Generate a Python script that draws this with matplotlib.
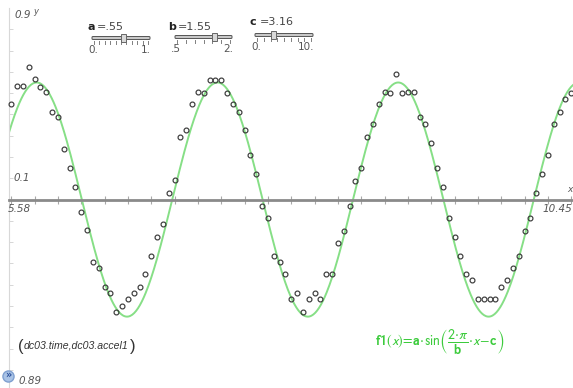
import numpy as np
import matplotlib as mpl
mpl.use('Agg')
import matplotlib.pyplot as plt
from matplotlib.patches import FancyBboxPatch, Rectangle

# slider values for f1(x) = a*sin(2*pi/b*x - c)
a = 0.55
b = 1.55
c = 3.16

# window settings
xmin, xmax = 5.58, 10.45
ymin, ymax = -0.89, 0.9

# dc03.time / dc03.accel1
time = [5.60, 5.65, 5.70, 5.75, 5.80, 5.85, 5.90, 5.95, 6.00, 6.05,
        6.10, 6.15, 6.20, 6.25, 6.30, 6.35, 6.40, 6.45, 6.50, 6.55,
        6.60, 6.65, 6.70, 6.75, 6.80, 6.85, 6.90, 6.95, 7.00, 7.05,
        7.10, 7.15, 7.20, 7.25, 7.30, 7.35, 7.40, 7.45, 7.50, 7.55,
        7.60, 7.65, 7.70, 7.75, 7.80, 7.85, 7.90, 7.95, 8.00, 8.05,
        8.10, 8.15, 8.20, 8.25, 8.30, 8.35, 8.40, 8.45, 8.50, 8.55,
        8.60, 8.65, 8.70, 8.75, 8.80, 8.85, 8.90, 8.95, 9.00, 9.05,
        9.10, 9.15, 9.20, 9.25, 9.30, 9.35, 9.40, 9.45, 9.50, 9.55,
        9.60, 9.65, 9.70, 9.75, 9.80, 9.85, 9.90, 9.95, 10.00, 10.05,
        10.10, 10.15, 10.20, 10.25, 10.30, 10.35, 10.40]
accel1 = [0.448, 0.534, 0.534, 0.623, 0.565, 0.531, 0.506, 0.413, 0.387, 0.238,
          0.149, 0.061, -0.058, -0.144, -0.291, -0.322, -0.410, -0.439, -0.529, -0.499,
          -0.468, -0.439, -0.410, -0.352, -0.263, -0.175, -0.116, 0.030, 0.091, 0.296,
          0.326,
          0.448, 0.506, 0.503, 0.563, 0.563, 0.563, 0.503, 0.448, 0.413, 0.326,
          0.208, 0.119, -0.028, -0.086, -0.263, -0.292, -0.352, -0.468, -0.439, -0.529,
          -0.468, -0.439, -0.468, -0.352, -0.352, -0.203, -0.146, -0.028, 0.089, 0.149,
          0.296, 0.355, 0.448,
          0.504, 0.503, 0.590, 0.503, 0.504, 0.504, 0.387, 0.355, 0.266, 0.149,
          0.061, -0.086, -0.174, -0.263, -0.350, -0.380, -0.468, -0.468, -0.468, -0.468,
          -0.410, -0.380, -0.322, -0.263, -0.146, -0.086, 0.031, 0.119, 0.208, 0.355,
          0.413, 0.473, 0.503]

W, H = 573, 388
fig = plt.figure(figsize=(W / 100, H / 100), dpi=100)
fig.patch.set_facecolor('white')

# plot window goes a few pixels past the right/bottom edge of the screenshot
ax = fig.add_axes([9 / W, -1 / H, 568 / W, 381 / H])
ax.set_xlim(xmin, xmax)
ax.set_ylim(ymin, ymax)
ax.set_facecolor('white')

ax.spines['top'].set_visible(False)
ax.spines['right'].set_visible(False)
ax.spines['bottom'].set_position(('data', 0))
ax.spines['bottom'].set_color('#8a8a8a')
ax.spines['bottom'].set_linewidth(2)
ax.spines['left'].set_color('#d8d8d8')
ax.spines['left'].set_linewidth(0.8)

ax.set_xticks(np.arange(5.6, 10.45, 0.2))
ax.set_yticks(np.arange(-0.8, 0.9, 0.1))
ax.tick_params(axis='x', direction='inout', length=6, width=0.8, color='#a8a8a8',
               labelbottom=False)
ax.tick_params(axis='y', direction='in', length=3, width=0.6, color='#d0d0d0',
               labelleft=False)

xs = np.linspace(xmin, xmax, 600)
ax.plot(xs, a * np.sin(2 * np.pi / b * xs - c), color='#86df86', lw=1.4, zorder=2)
ax.plot(time, accel1, 'o', ms=3.5, mfc='none', mec='#3a3a3a', mew=0.85, zorder=3,
        clip_on=False)


def px(x, y):
    return x / W, 1 - y / H


gray = '#555555'
fig.text(*px(14, 15), '0.9', fontsize=7.5, style='italic', color=gray, va='center')
fig.text(*px(33, 12), 'y', fontsize=6, style='italic', color=gray, va='center')
fig.text(*px(13, 178), '0.1', fontsize=7.5, style='italic', color=gray, va='center')
fig.text(*px(8, 209), '5.58', fontsize=7.5, style='italic', color=gray, va='center')
fig.text(*px(572, 209), '10.45', fontsize=7.5, style='italic', color=gray, va='center',
         ha='right')
fig.text(*px(567, 189), 'x', fontsize=6.5, style='italic', color=gray, va='center')
fig.text(*px(18, 381), '0.89', fontsize=7.5, style='italic', color=gray, va='center')

# little blue icon in the corner
ax.plot([8 / W], [1 - 376 / H], 'o', ms=8, color='#a9c3e6', mec='#7fa0d0',
        transform=fig.transFigure, clip_on=False, zorder=5)
fig.text(*px(8, 375), '»', fontsize=7, color='#2a4f9a', ha='center', va='center',
         weight='bold')

# data set label with tall brackets
fig.text(*px(18, 346), '(', fontsize=12, color='#333333', va='center',
         family='Liberation Sans')
lab = fig.text(*px(24, 346), 'dc03.time,dc03.accel1', fontsize=7.6, style='italic',
               color='#333333', va='center', family='Liberation Sans')
fig.canvas.draw()
ext = lab.get_window_extent()
fig.text((ext.x1 + 1.5) / W, 1 - 346 / H, ')', fontsize=12, color='#333333',
         va='center', family='Liberation Sans')

fig.text(*px(375, 341),
         r'$\mathbf{f1}(x)\!=\!\mathbf{a}\!\cdot\!\sin\!\left(\dfrac{2\!\cdot\!\pi}{\mathbf{b}}\!\cdot\! x\!-\!\mathbf{c}\right)$',
         fontsize=10, color='#3ccb3c', va='center', math_fontfamily='stixsans')

# sliders
sliders = [
    ('a', '.55', a, 0.0, 1.0, '0.', '1.', 11, 87, 27, 92, 150, 38),
    ('b', '1.55', b, 0.5, 2.0, '.5', '2.', 7, 168, 27, 175, 232, 37),
    ('c', '3.16', c, 0.0, 10.0, '0.', '10.', 9, 250, 22, 255, 313, 35),
]
for name, val, v, lo, hi, lo_lab, hi_lab, nt, lx, ly, x0, x1, ty in sliders:
    fig.text(*px(lx, ly), name, fontsize=8, weight='bold', color='#222222',
             va='center')
    fig.text(*px(lx + 10, ly), '=' + val, fontsize=8, color='#444444', va='center')
    bar = FancyBboxPatch((x0 / W, 1 - (ty + 1.5) / H), (x1 - x0) / W, 3 / H,
                         boxstyle='round,pad=0,rounding_size=0.002',
                         transform=fig.transFigure, fc='#c8c8c8', ec='#555555', lw=0.7,
                         zorder=3)
    fig.add_artist(bar)
    for k in range(nt):
        tx = x0 + 2 + (x1 - x0 - 4) * k / (nt - 1)
        fig.add_artist(plt.Line2D([tx / W, tx / W], [1 - (ty + 3) / H, 1 - (ty + 5.5) / H],
                                  transform=fig.transFigure, color='#808080', lw=0.7,
                                  zorder=3))
    thx = x0 + (x1 - x0) * (v - lo) / (hi - lo)
    fig.add_artist(Rectangle(((thx - 2.5) / W, 1 - (ty + 4) / H), 5 / W, 8 / H,
                             transform=fig.transFigure, fc='#d8d8d8', ec='#666666', lw=0.7,
                             zorder=4))
    fig.text(*px(x0 - 4, ty + 12), lo_lab, fontsize=7.5, color=gray, va='center')
    fig.text(*px(x1 + 1, ty + 12), hi_lab, fontsize=7.5, color=gray, va='center',
             ha='right')

fig.savefig('out.png', dpi=100)
